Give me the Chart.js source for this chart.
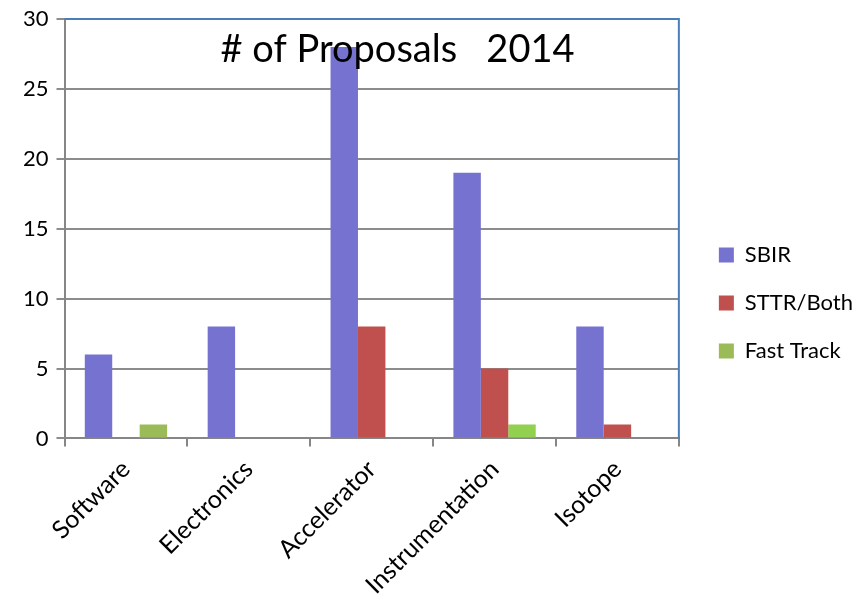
<!DOCTYPE html>
<html>
<head>
<meta charset="utf-8">
<script src="https://cdn.jsdelivr.net/npm/chart.js@4/dist/chart.umd.min.js"></script>
<style>
  html, body { margin: 0; padding: 0; background: #fff; }
  #wrap { width: 858px; height: 600px; }
</style>
</head>
<body>
<div id="wrap"><canvas id="chart"></canvas></div>
<script>
// proposals per topic area, 2014
const categories = ["Software", "Electronics", "Accelerator", "Instrumentation", "Isotope"];
const sbir = [6, 8, 28, 19, 8];
const sttrBoth = [0, 0, 8, 5, 1];
const fastTrack = [1, 0, 0, 1, 0];
const yTicks = [0, 5, 10, 15, 20, 25, 30];

const FONT = "Lato, 'Open Sans', sans-serif";

// title sits inside the plot area; top and right frame edges are blue
const frameAndTitle = {
    id: "frameAndTitle",
    afterLayout(chart) {
        // nudge the legend block a bit right and up
        const lg = chart.legend;
        lg.left += 14; lg.right += 14;
        lg.top -= 6; lg.bottom -= 6;
    },
    afterDraw(chart) {
        const { ctx, chartArea: a } = chart;
        ctx.save();
        ctx.strokeStyle = "#4a7ebb";
        ctx.lineWidth = 2;
        ctx.beginPath();
        ctx.moveTo(a.left, a.top);
        ctx.lineTo(a.right, a.top);
        ctx.lineTo(a.right, a.bottom);
        ctx.stroke();

        ctx.fillStyle = "#000";
        ctx.font = "38px " + FONT;
        ctx.textAlign = "center";
        ctx.textBaseline = "middle";
        ctx.fillText("# of Proposals   2014", a.left + 333, a.top + 31);
        ctx.restore();
    }
};

new Chart(document.getElementById("chart"), {
    type: "bar",
    data: {
        labels: categories,
        datasets: [
            { label: "SBIR", data: sbir, backgroundColor: "#7673d0" },
            { label: "STTR/Both", data: sttrBoth, backgroundColor: "#c0504d" },
            {
                label: "Fast Track",
                data: fastTrack,
                backgroundColor: (c) => c.dataIndex === 3 ? "#92d050" : "#9bbb59"
            }
        ]
    },
    options: {
        responsive: true,
        maintainAspectRatio: false,
        animation: false,
        layout: { padding: { top: 10, left: 15, right: 9, bottom: -8 } },
        datasets: {
            bar: { categoryPercentage: 0.67, barPercentage: 1.0 }
        },
        plugins: {
            legend: {
                position: "right",
                align: "center",
                labels: {
                    boxWidth: 15,
                    boxHeight: 15,
                    padding: 26,
                    color: "#000",
                    font: { family: FONT, size: 22 }
                }
            },
            tooltip: { enabled: false }
        },
        scales: {
            x: {
                grid: {
                    drawOnChartArea: false,
                    color: "#868686",
                    lineWidth: 2,
                    tickLength: 8
                },
                border: { color: "#868686", width: 2 },
                ticks: {
                    color: "#000",
                    minRotation: 45,
                    maxRotation: 45,
                    padding: 8,
                    font: { family: FONT, size: 25 }
                }
            },
            y: {
                min: 0,
                max: 30,
                afterBuildTicks: (s) => { s.ticks = yTicks.map(v => ({ value: v })); },
                grid: {
                    color: "#8c8c8c",
                    lineWidth: 2,
                    tickLength: 8
                },
                border: { color: "#868686", width: 2 },
                ticks: {
                    color: "#000",
                    padding: 8,
                    font: { family: FONT, size: 22, lineHeight: 1 }
                }
            }
        }
    },
    plugins: [frameAndTitle]
});
</script>
</body>
</html>
